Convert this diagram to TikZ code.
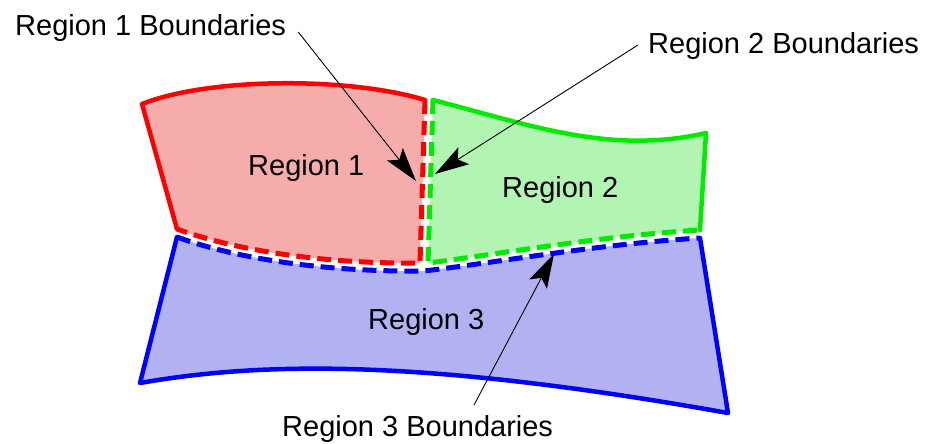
\documentclass[tikz,border=0pt]{standalone}
\usepackage{fontspec}
\setmainfont{Liberation Sans}
\usetikzlibrary{arrows.meta}
\definecolor{rfill}{RGB}{247,172,172}
\definecolor{gfill}{RGB}{178,245,178}
\definecolor{bfill}{RGB}{178,178,242}
\definecolor{rline}{RGB}{255,0,0}
\definecolor{gline}{RGB}{0,235,0}
\definecolor{bline}{RGB}{0,0,255}
\begin{document}
\begin{tikzpicture}[x=1pt,y=-1pt,
  edge/.style={line width=4.5pt, line join=round, line cap=round},
  bnd/.style={line width=5pt, dash pattern=on 14pt off 7pt},
  lbl/.style={font=\fontsize{29}{32}\selectfont, inner sep=0pt, anchor=base west},
  callout/.style={line width=0.9pt, -{Stealth[length=34pt,width=20pt,inset=7pt]}}]
\useasboundingbox (0,0) rectangle (926,444);

% region fills
\fill[rfill] (142,104) .. controls (210,77) and (350,77) .. (425,100) -- (420,263)
  .. controls (330,264) and (240,252) .. (177,229) -- cycle;
\fill[gfill] (433,100) .. controls (530,125) and (610,155) .. (706,133) -- (700,230)
  .. controls (600,236) and (500,254) .. (428,263) -- cycle;
\fill[bfill] (177,237) .. controls (240,260) and (330,272) .. (424,271)
  .. controls (500,262) and (600,244) .. (700,238) -- (728,413)
  .. controls (420,358) and (260,362) .. (140,383) -- cycle;

% outer solid edges
\draw[edge, rline] (177,229) -- (142,104) .. controls (210,77) and (350,77) .. (425,100);
\draw[edge, gline] (433,100) .. controls (530,125) and (610,155) .. (706,133) -- (700,230);
\draw[edge, bline] (700,238) -- (728,413) .. controls (420,358) and (260,362) .. (140,383) -- (177,237);

% shared dashed boundaries
\draw[bnd, rline] (425,100) -- (420,263) .. controls (330,264) and (240,252) .. (177,229);
\draw[bnd, gline] (433,100) -- (428,263) .. controls (500,254) and (600,236) .. (700,230);
\draw[bnd, bline] (177,237) .. controls (240,260) and (330,272) .. (424,271)
  .. controls (500,262) and (600,244) .. (700,238);

% labels
\node[lbl] (r1) at (248,175) {Region 1};
\node[lbl] (r2) at (502,197) {Region 2};
\node[lbl] (r3) at (368,329) {Region 3};
\node[lbl] (b1) at (15,36) {Region 1 Boundaries};
\node[lbl] (b2) at (648,53) {Region 2 Boundaries};
\node[lbl] (b3) at (282,436) {Region 3 Boundaries};

% arrow targets
\coordinate (t1) at (416,181);
\coordinate (t2) at (435,174);
\coordinate (t3) at (554,254);

\draw[callout] ([shift={(12,-4)}]b1.base east) -- (t1);
\draw[callout] ([shift={(-10,-8)}]b2.base west) -- (t2);
\draw[callout] ([shift={(192,-31)}]b3.base west) -- (t3);
\end{tikzpicture}
\end{document}
